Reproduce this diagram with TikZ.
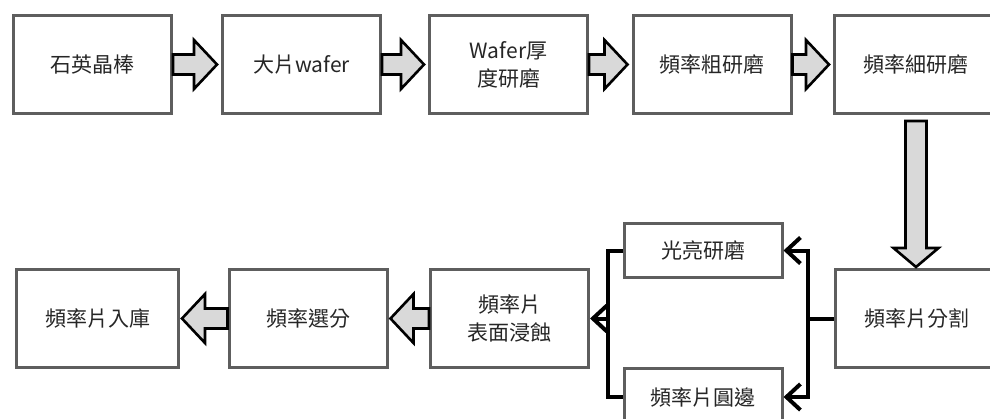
\documentclass[tikz,border=0pt]{standalone}
\usepackage{fontspec}
\setmainfont{Noto Sans CJK TC}
\usetikzlibrary{arrows.meta,calc}
\definecolor{boxline}{HTML}{5E5E5E}
\definecolor{arrowfill}{HTML}{D9D9D9}
\definecolor{txt}{HTML}{262626}
\tikzset{
  procbox/.style={draw=boxline,line width=3pt,fill=white,minimum width=158pt,minimum height=98pt,
    inner sep=0pt,align=center,text=txt,font=\fontsize{21pt}{28pt}\selectfont},
  smallbox/.style={procbox,minimum height=54pt},
  barrow/.style={draw=black,line width=2.6pt,fill=arrowfill,line join=miter},
  branch/.style={draw=black,line width=4pt},
  branchtip/.style={branch,-{Straight Barb[length=14pt,width=26pt,line width=4pt]}}
}
% right-pointing block arrow from #1.east to #2.west
\newcommand\blkright[2]{%
  \draw[barrow] let \p1=(#1.east), \p2=(#2.west) in
    (\x1,\y1+10) -- (\x2-27,\y1+10) -- (\x2-27,\y1+24.5) -- (\x2-4,\y1)
    -- (\x2-27,\y1-24.5) -- (\x2-27,\y1-10) -- (\x1,\y1-10) -- cycle;}
% left-pointing block arrow from #1.west to #2.east
\newcommand\blkleft[2]{%
  \draw[barrow] let \p1=(#1.west), \p2=(#2.east) in
    (\x1,\y1+10) -- (\x2+25,\y1+10) -- (\x2+25,\y1+24.5) -- (\x2+2,\y1)
    -- (\x2+25,\y1-24.5) -- (\x2+25,\y1-10) -- (\x1,\y1-10) -- cycle;}
\begin{document}
\begin{tikzpicture}[x=1pt,y=-1pt]
\clip (0,0) rectangle (990,418);
\fill[white] (0,0) rectangle (990,418);
% top row
\node[procbox] (b1) at (92.5,64.5) {石英晶棒};
\node[procbox] (b2) at (301.5,64.5) {大片wafer};
\node[procbox] (b3) at (508.5,64.5) {Wafer厚\\度研磨};
\node[procbox] (b4) at (712,64.5) {頻率粗研磨};
\node[procbox,minimum width=163pt] (b5) at (916,64.5) {頻率細研磨};
% bottom row
\node[procbox,minimum width=162pt] (a) at (97.5,318.5) {頻率片入庫};
\node[procbox] (sel) at (308,318.5) {頻率選分};
\node[procbox] (etch) at (509.5,318.5) {頻率片\\表面浸蝕};
\node[procbox,minimum width=163pt] (cut) at (916.5,318.5) {頻率片分割};
\node[smallbox] (pol) at (703,250.5) {光亮研磨};
\node[smallbox,minimum height=58pt] (edge) at (703,397) {頻率片圓邊};
% block arrows
\blkright{b1}{b2}
\blkright{b2}{b3}
\blkright{b3}{b4}
\blkright{b4}{b5}
\blkleft{sel}{a}
\blkleft{etch}{sel}
\draw[barrow] let \p1=(b5.south), \p2=(cut.north) in
  (\x1-10.5,\y1-6) -- (\x1+10.5,\y1-6) -- (\x1+10.5,\y2+20) -- (\x1+22.5,\y2+20)
  -- (\x1,\y2+1) -- (\x1-22.5,\y2+20) -- (\x1-10.5,\y2+20) -- cycle;
% branches
\coordinate (rj) at (808,318.5);
\coordinate (lj) at (608,318.5);
\draw[branch] (cut.west) -- (rj);
\draw[branchtip] (rj) |- (pol.east);
\draw[branchtip] (rj) |- (edge.east);
\draw[branch] (pol.west) -| (lj);
\draw[branch] (edge.west) -| (lj);
\draw[branchtip] (lj) -- (etch.east);
\end{tikzpicture}
\end{document}
